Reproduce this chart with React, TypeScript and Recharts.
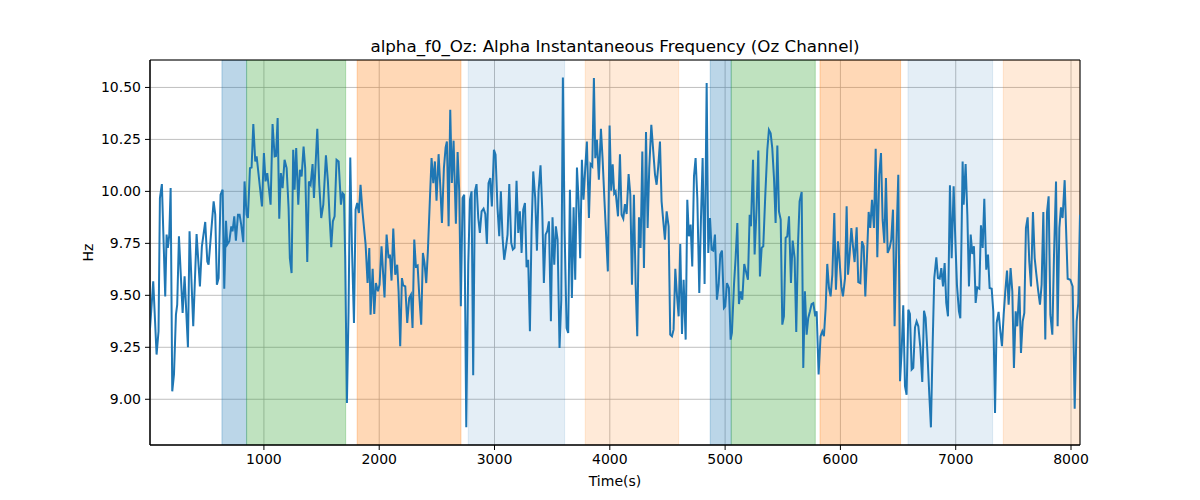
import {
  LineChart, Line, XAxis, YAxis, CartesianGrid, ReferenceArea
} from 'recharts'

// sample times (s) and instantaneous alpha frequency (Hz)
const times = [
  12, 40, 69, 86, 98, 115, 144, 156, 167, 179, 191, 205, 220, 237, 248, 263, 295, 312, 341, 355,
  387, 416, 445, 462, 491, 509, 520, 543, 564, 578, 592, 607, 624, 642, 656, 671, 682, 700, 717, 728,
  743, 757, 775, 789, 803, 821, 832, 850, 861, 879, 893, 908, 925, 937, 954, 983, 1000, 1014, 1029, 1058,
  1075, 1093, 1105, 1119, 1133, 1147, 1162, 1179, 1197, 1214, 1225, 1240, 1254, 1266, 1280, 1298, 1312, 1327, 1344, 1358,
  1376, 1390, 1405, 1422, 1434, 1448, 1463, 1480, 1497, 1515, 1538, 1555, 1570, 1584, 1598, 1613, 1630, 1648, 1668, 1682,
  1694, 1705, 1720, 1734, 1749, 1763, 1781, 1795, 1809, 1824, 1838, 1856, 1882, 1899, 1914, 1925, 1943, 1957, 1971, 1989,
  2003, 2020, 2046, 2064, 2081, 2093, 2107, 2122, 2139, 2156, 2168, 2182, 2197, 2208, 2226, 2243, 2260, 2275, 2289, 2304,
  2318, 2333, 2347, 2364, 2379, 2393, 2408, 2422, 2440, 2454, 2469, 2483, 2497, 2515, 2529, 2544, 2561, 2576, 2587, 2602,
  2616, 2630, 2645, 2665, 2680, 2694, 2708, 2723, 2737, 2755, 2772, 2787, 2801, 2815, 2830, 2844, 2859, 2873, 2888, 2905,
  2920, 2934, 2948, 2963, 2977, 2995, 3009, 3026, 3041, 3055, 3070, 3084, 3099, 3113, 3128, 3145, 3159, 3174, 3191, 3206,
  3220, 3235, 3249, 3264, 3278, 3292, 3307, 3321, 3336, 3353, 3368, 3382, 3399, 3414, 3428, 3443, 3457, 3472, 3489, 3503,
  3518, 3532, 3547, 3564, 3579, 3593, 3608, 3625, 3639, 3654, 3671, 3686, 3700, 3715, 3729, 3743, 3758, 3772, 3787, 3801,
  3819, 3833, 3848, 3862, 3874, 3888, 3905, 3923, 3937, 3954, 3983, 3998, 4012, 4025, 4038, 4050, 4071, 4088, 4102, 4117,
  4131, 4146, 4163, 4178, 4192, 4209, 4224, 4238, 4253, 4267, 4282, 4296, 4314, 4328, 4342, 4360, 4377, 4392, 4406, 4420,
  4435, 4449, 4464, 4478, 4493, 4510, 4524, 4539, 4553, 4568, 4582, 4597, 4611, 4626, 4640, 4658, 4672, 4686, 4701, 4715,
  4730, 4744, 4759, 4776, 4790, 4805, 4822, 4840, 4854, 4869, 4883, 4897, 4912, 4929, 4944, 4958, 4973, 4990, 5001, 5016,
  5033, 5048, 5059, 5077, 5091, 5106, 5120, 5135, 5149, 5166, 5181, 5198, 5213, 5224, 5242, 5256, 5273, 5288, 5302, 5317,
  5331, 5348, 5366, 5380, 5395, 5409, 5424, 5438, 5453, 5467, 5482, 5496, 5510, 5525, 5539, 5554, 5571, 5586, 5603, 5617,
  5632, 5646, 5664, 5678, 5692, 5707, 5721, 5736, 5750, 5765, 5782, 5794, 5811, 5828, 5843, 5857, 5872, 5886, 5901, 5915,
  5930, 5947, 5961, 5979, 5993, 6008, 6022, 6040, 6054, 6066, 6080, 6095, 6109, 6123, 6141, 6155, 6173, 6187, 6202, 6216,
  6230, 6245, 6259, 6274, 6291, 6306, 6320, 6337, 6352, 6366, 6381, 6395, 6410, 6427, 6441, 6456, 6470, 6485, 6502, 6517,
  6531, 6545, 6560, 6574, 6589, 6603, 6618, 6632, 6647, 6661, 6676, 6693, 6710, 6725, 6739, 6754, 6771, 6785, 6800, 6814,
  6832, 6846, 6861, 6875, 6890, 6904, 6918, 6933, 6950, 6965, 6982, 6997, 7011, 7028, 7040, 7060, 7069, 7086, 7101, 7115,
  7130, 7144, 7158, 7173, 7187, 7205, 7219, 7234, 7248, 7265, 7280, 7294, 7312, 7326, 7341, 7355, 7372, 7387, 7401, 7416,
  7430, 7445, 7459, 7476, 7491, 7505, 7520, 7534, 7552, 7566, 7581, 7595, 7609, 7624, 7638, 7653, 7670, 7685, 7699, 7716,
  7731, 7745, 7760, 7777, 7792, 7806, 7821, 7838, 7852, 7870, 7884, 7899, 7913, 7927, 7945, 7956, 7971, 7994, 8014, 8032,
  8049, 8063, 8078,
]

const hz = [
  9.34, 9.567, 9.215, 9.327, 9.968, 10.035, 9.495, 9.792, 9.728, 9.79, 10.016, 9.038, 9.119, 9.407, 9.455, 9.784, 9.415, 9.591, 9.25, 9.808,
  9.351, 9.795, 9.543, 9.736, 9.853, 9.663, 9.647, 9.808, 9.952, 9.888, 9.551, 9.583, 9.984, 10.008, 9.532, 9.859, 9.744, 9.76, 9.832, 9.808,
  9.88, 9.763, 9.888, 9.888, 9.84, 9.756, 10.048, 9.888, 9.872, 10.112, 10.115, 10.324, 10.144, 10.168, 10.08, 9.928, 10.184, 10.048, 10.088, 9.936,
  10.324, 10.168, 10.17, 10.353, 9.869, 10.088, 10.016, 10.152, 10.112, 9.92, 9.679, 9.607, 10.2, 10.008, 10.208, 9.936, 10.104, 10.072, 10.216, 10.112,
  9.66, 10.048, 10.032, 10.131, 9.968, 10.128, 10.301, 10.032, 9.872, 9.936, 10.173, 10.048, 9.872, 9.731, 9.856, 9.88, 10.152, 10.144, 9.936, 9.992,
  9.984, 9.679, 8.982, 9.423, 10.163, 9.744, 9.367, 9.912, 9.944, 9.896, 10.032, 9.896, 9.744, 9.559, 9.728, 9.407, 9.628, 9.41, 9.559, 9.519,
  9.551, 9.736, 9.49, 9.792, 9.679, 9.696, 9.571, 9.821, 9.599, 9.647, 9.519, 9.255, 9.583, 9.548, 9.543, 9.367, 9.487, 9.503, 9.343, 9.768,
  9.639, 9.644, 9.503, 9.359, 9.704, 9.655, 9.559, 9.712, 9.968, 10.16, 10.04, 10.144, 9.955, 10.179, 10.032, 9.848, 10.112, 10.212, 10.24, 9.832,
  10.393, 10.04, 10.244, 9.845, 10.189, 10.0, 9.447, 9.968, 9.984, 8.865, 9.647, 9.96, 10.0, 9.115, 10.0, 10.035, 9.872, 9.8, 9.904, 9.917,
  9.891, 9.747, 10.04, 10.064, 9.928, 10.2, 10.176, 9.92, 9.784, 10.0, 9.776, 9.671, 9.728, 9.792, 10.035, 9.752, 9.72, 9.728, 10.051, 9.8,
  9.904, 9.704, 9.912, 9.944, 9.635, 9.671, 9.327, 9.808, 10.096, 9.968, 9.715, 10.0, 10.125, 9.912, 9.559, 9.792, 9.808, 9.856, 9.375, 9.875,
  9.647, 9.832, 9.768, 9.247, 9.479, 10.548, 9.808, 9.343, 9.319, 10.008, 9.487, 9.923, 9.575, 10.115, 9.96, 9.679, 10.152, 9.96, 10.112, 10.24,
  9.872, 10.131, 10.12, 10.545, 10.16, 10.248, 10.056, 10.301, 10.16, 9.952, 9.615, 10.317, 10.003, 10.13, 9.99, 10.0, 9.88, 10.179, 9.888, 9.869,
  9.939, 9.891, 10.083, 9.984, 9.551, 9.984, 9.551, 9.303, 9.875, 9.728, 10.192, 9.631, 10.285, 9.824, 10.112, 10.32, 10.192, 10.08, 10.032, 10.12,
  10.24, 9.952, 9.856, 9.768, 9.904, 9.832, 9.311, 9.303, 9.335, 9.628, 9.503, 9.399, 9.747, 9.314, 9.575, 9.287, 9.96, 9.784, 9.84, 9.639,
  10.072, 10.16, 9.968, 9.511, 9.856, 10.16, 9.554, 10.521, 9.704, 9.872, 9.72, 9.715, 9.792, 9.479, 9.551, 9.696, 9.715, 9.439, 9.447, 9.559,
  9.535, 9.287, 9.319, 9.551, 9.679, 9.848, 9.458, 9.519, 9.479, 9.651, 9.615, 9.575, 9.888, 9.832, 10.152, 9.696, 9.92, 10.196, 9.591, 9.728,
  9.736, 9.976, 10.2, 10.296, 10.28, 10.208, 10.064, 9.848, 10.221, 9.904, 9.864, 9.359, 9.399, 9.776, 9.784, 9.88, 9.559, 9.763, 9.679, 9.324,
  9.744, 9.952, 9.997, 9.151, 9.519, 9.311, 9.391, 9.423, 9.458, 9.463, 9.399, 9.423, 9.119, 9.303, 9.327, 9.303, 9.439, 9.651, 9.535, 9.495,
  9.599, 9.896, 9.527, 9.76, 9.663, 9.543, 9.495, 9.583, 9.928, 9.599, 9.696, 9.824, 9.736, 9.66, 9.827, 9.564, 9.559, 9.76, 9.736, 9.495,
  9.679, 9.901, 9.824, 9.96, 9.824, 10.205, 9.683, 10.08, 10.184, 9.864, 9.752, 10.064, 9.704, 9.728, 9.768, 9.912, 9.351, 9.74, 10.08, 9.087,
  9.231, 9.452, 9.063, 9.022, 9.431, 9.41, 9.143, 9.151, 9.346, 9.375, 9.351, 9.25, 9.083, 9.426, 9.391, 9.231, 9.022, 8.865, 9.263, 9.583,
  9.683, 9.583, 9.58, 9.631, 9.543, 9.655, 9.463, 9.399, 10.029, 9.679, 10.024, 9.763, 9.548, 9.423, 9.39, 10.144, 9.936, 10.131, 9.888, 9.543,
  9.792, 9.699, 9.736, 9.463, 9.538, 9.532, 9.837, 9.728, 9.965, 9.623, 9.696, 9.535, 9.532, 9.423, 8.934, 9.367, 9.42, 9.327, 9.255, 9.407,
  9.519, 9.619, 9.455, 9.631, 9.519, 9.151, 9.423, 9.351, 9.543, 9.223, 9.375, 9.415, 9.824, 9.875, 9.663, 9.543, 9.901, 9.679, 9.603, 9.519,
  9.455, 9.551, 9.901, 9.287, 9.901, 9.976, 9.407, 9.311, 9.679, 10.048, 9.351, 9.824, 9.923, 9.872, 10.054, 9.84, 9.58, 9.575, 9.543, 8.955,
  9.375, 9.463, 9.888,
]

// shaded segments
const bandStart = [636, 850, 1809, 2772, 3787, 4871, 5053, 5823, 6586, 7413]
const bandEnd = [850, 1709, 2709, 3608, 4597, 5053, 5782, 6522, 7320, 8078]
const bandColor = ['#1f77b4', '#2ca02c', '#ff7f0e', '#1f77b4', '#ff7f0e', '#1f77b4', '#2ca02c', '#ff7f0e', '#1f77b4', '#ff7f0e']
const bandAlpha = [0.3, 0.3, 0.3, 0.12, 0.16, 0.3, 0.3, 0.3, 0.12, 0.16]

const xTicks = [1000, 2000, 3000, 4000, 5000, 6000, 7000, 8000]
const yTicks = [9.0, 9.25, 9.5, 9.75, 10.0, 10.25, 10.5]

const xMin = 12
const xMax = 8078
const yMin = 8.78
const yMax = 10.632

const data = times.map((t, i) => ({ t, hz: hz[i] }))

const tickStyle = { fill: '#000', fontSize: 14 }

export default function App() {
  return (
    <div style={{ position: 'absolute', left: 0, top: 0, width: 1200, height: 500, background: '#fff', fontFamily: 'DejaVu Sans' }}>
      <div style={{ position: 'absolute', left: 150, top: 36, width: 930, height: 20, lineHeight: '20px', textAlign: 'center', fontSize: 16.7, color: '#000' }}>
        alpha_f0_Oz: Alpha Instantaneous Frequency (Oz Channel)
      </div>
      <LineChart width={1200} height={500} data={data} margin={{ top: 60, right: 120, bottom: 0, left: 0 }}>
        <CartesianGrid stroke="#b0b0b0" strokeWidth={0.8} />
        {bandStart.map((s, i) => (
          <ReferenceArea
            key={i}
            x1={s}
            x2={bandEnd[i]}
            y1={yMin}
            y2={yMax}
            fill={bandColor[i]}
            fillOpacity={bandAlpha[i]}
            stroke={bandColor[i]}
            strokeOpacity={bandAlpha[i]}
            ifOverflow="hidden"
          />
        ))}
        <XAxis
          dataKey="t"
          type="number"
          domain={[xMin, xMax]}
          ticks={xTicks}
          allowDataOverflow
          height={55}
          tick={tickStyle}
          tickSize={5}
          tickMargin={4}
          stroke="#000"
          label={{ value: 'Time(s)', position: 'center', dy: 9, fill: '#000', fontSize: 14 }}
        />
        <YAxis
          type="number"
          domain={[yMin, yMax]}
          ticks={yTicks}
          allowDataOverflow
          width={150}
          tick={tickStyle}
          tickSize={5}
          tickMargin={4}
          stroke="#000"
          tickFormatter={(v: number) => v.toFixed(2)}
          label={{ value: 'Hz', angle: -90, position: 'center', dx: 13, fill: '#000', fontSize: 14 }}
        />
        <Line
          type="linear"
          dataKey="hz"
          stroke="#1f77b4"
          strokeWidth={2}
          dot={false}
          isAnimationActive={false}
        />
        <ReferenceArea x1={xMin} x2={xMax} y1={yMin} y2={yMax} fill="none" stroke="#000" strokeWidth={1} />
      </LineChart>
    </div>
  )
}
